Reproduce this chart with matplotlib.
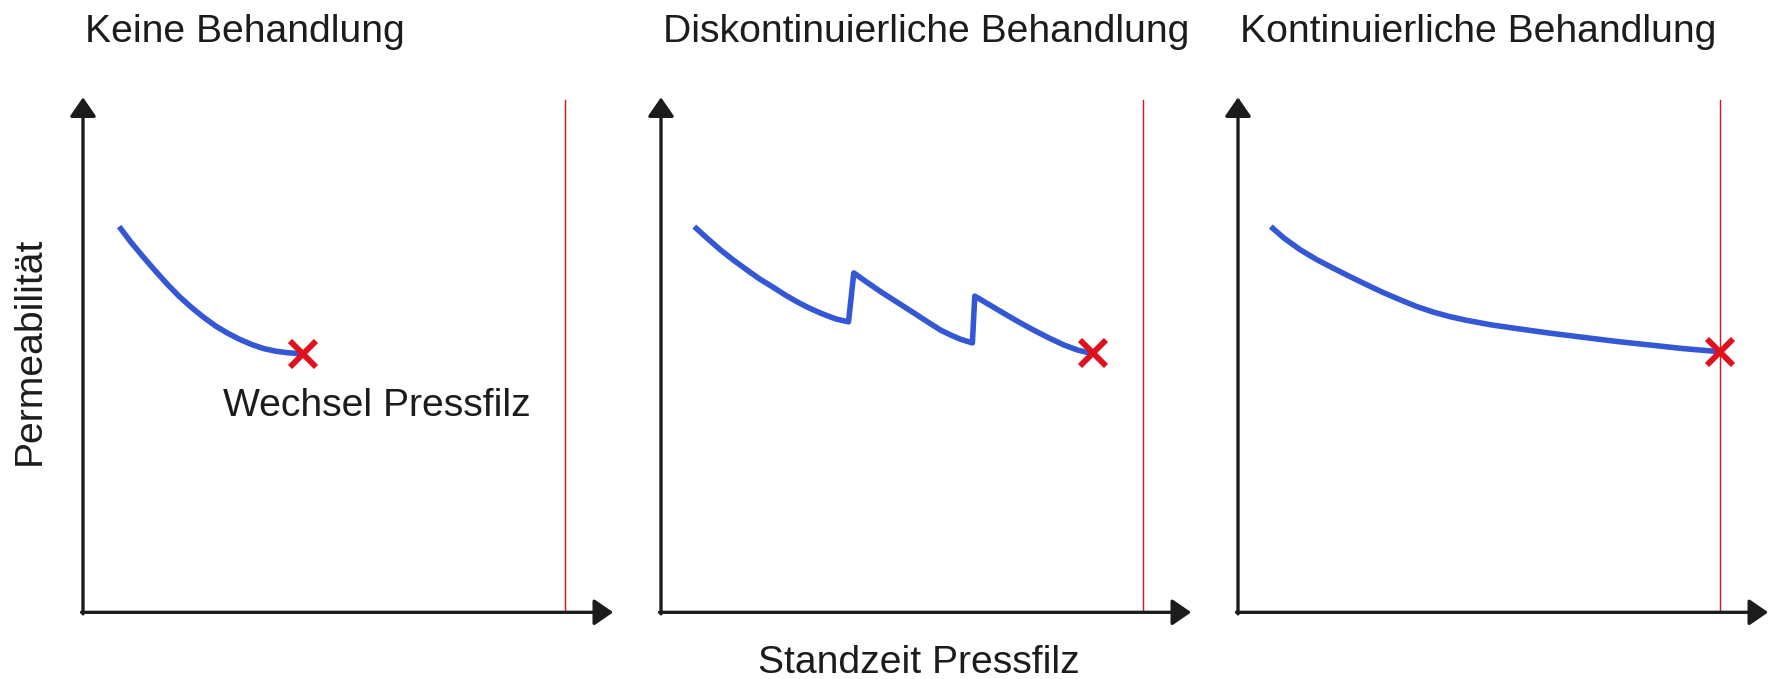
import matplotlib
matplotlib.use("Agg")
import matplotlib.pyplot as plt

plt.rcParams['font.family'] = ['Liberation Sans', 'DejaVu Sans']

W, H = 1777, 679
FS = 28.2
INK = '#1c1c1c'
BLUE = '#3457d5'
RED = '#e0101e'

titles = ['Keine Behandlung', 'Diskontinuierliche Behandlung', 'Kontinuierliche Behandlung']
x_label = 'Standzeit Pressfilz'
y_label = 'Permeabilität'
note = 'Wechsel Pressfilz'

# curves, x: 0 = y-axis, 100 = red line; y: 0 = x-axis, 100 = arrow tip
keine_x = [7.5, 10, 12.5, 15, 17.5, 20, 22.5, 25, 27.5, 30, 32.5, 35, 37.5, 40, 42.5, 45.4]
keine_y = [74.9, 71.8, 69.0, 66.3, 63.7, 61.3, 59.2, 57.3, 55.6, 54.2, 53.0, 52.0,
           51.2, 50.7, 50.4, 50.2]

disk_x = [6.9, 9.5, 12.3, 15, 17.8, 20.5, 23.3, 25.8, 28.2, 30.7, 33.1, 35, 36.5, 38, 38.9,
          40.0, 42.7, 45.5, 49, 52.5, 55.3, 58.0, 60.2, 62.2, 63.6, 64.6,
          65.1, 67.8, 70.5, 73.6, 76.7, 80.2, 83.6, 86.5, 89.2]
disk_y = [74.9, 72.7, 70.4, 68.4, 66.5, 64.7, 63.1, 61.6, 60.3, 59.1, 58.1, 57.4, 56.9, 56.6, 56.4,
          65.9, 64.1, 62.3, 60.2, 58.1, 56.4, 54.8, 53.8, 53.0, 52.6, 52.3,
          61.4, 59.9, 58.4, 56.7, 55.1, 53.4, 51.9, 50.9, 50.3]

kont_x = [6.8, 9.5, 12.9, 16.3, 19.8, 23.2, 26.7, 30.1, 33.6, 37, 40.5, 44, 47.4,
          52.6, 57.8, 64.7, 71.6, 78.5, 85.5, 92.4, 100]
kont_y = [74.9, 72.7, 70.4, 68.5, 66.8, 65.2, 63.6, 62.1, 60.7, 59.4, 58.3, 57.4, 56.7,
          55.8, 55.1, 54.2, 53.4, 52.6, 51.9, 51.2, 50.6]

curves = [(keine_x, keine_y), (disk_x, disk_y), (kont_x, kont_y)]
ends = [(45.6, 50.2), (89.6, 50.3), (100.0, 50.6)]

# pixel positions of the y-axis of each panel
axis_left = [83, 661, 1238]
x_axis_px = 612.3
top_px = 97.3
unit_px = 4.82

fig = plt.figure(figsize=(W / 100, H / 100), dpi=100)

for i in range(3):
    left = axis_left[i] / W
    bottom = (H - x_axis_px) / H
    width = 110 * unit_px / W
    height = (x_axis_px - top_px) / H
    ax = fig.add_axes([left, bottom, width, height])
    ax.set_xlim(0, 110)
    ax.set_ylim(0, 100)
    ax.axis('off')

    arrow = dict(arrowstyle='-|>,head_length=0.58,head_width=0.4', color=INK,
                 lw=2.4, shrinkA=0, shrinkB=0, mutation_scale=20)
    ax.annotate('', xy=(0, 100), xytext=(0, -0.3), arrowprops=arrow, annotation_clip=False)
    ax.annotate('', xy=(110, 0), xytext=(-0.3, 0), arrowprops=arrow, annotation_clip=False)

    ax.plot([100, 100], [0, 99.5], color=RED, lw=1.0, clip_on=False, zorder=2)

    cx, cy = curves[i]
    ax.plot(cx, cy, color=BLUE, lw=4.0, solid_joinstyle='round', solid_capstyle='butt',
            clip_on=False, zorder=3)
    ex, ey = ends[i]
    ax.plot([ex], [ey], marker='x', color=RED, markersize=18.5, markeredgewidth=4.2,
            clip_on=False, zorder=4)

    fig.text((axis_left[i] + 2) / W, (H - 42.3) / H, titles[i], fontsize=FS,
             color=INK, ha='left', va='baseline')

    if i == 0:
        ax.text(29.0, 38.1, note, fontsize=FS, color=INK, ha='left', va='baseline')

fig.text(918.6 / W, (H - 672.7) / H, x_label, fontsize=FS, color=INK,
         ha='center', va='baseline')
fig.text(39.3 / W, (H - 351) / H, y_label, fontsize=FS, color=INK, rotation=90,
         rotation_mode='anchor', ha='center', va='baseline')

fig.savefig('out.png', dpi=100, facecolor='white')
